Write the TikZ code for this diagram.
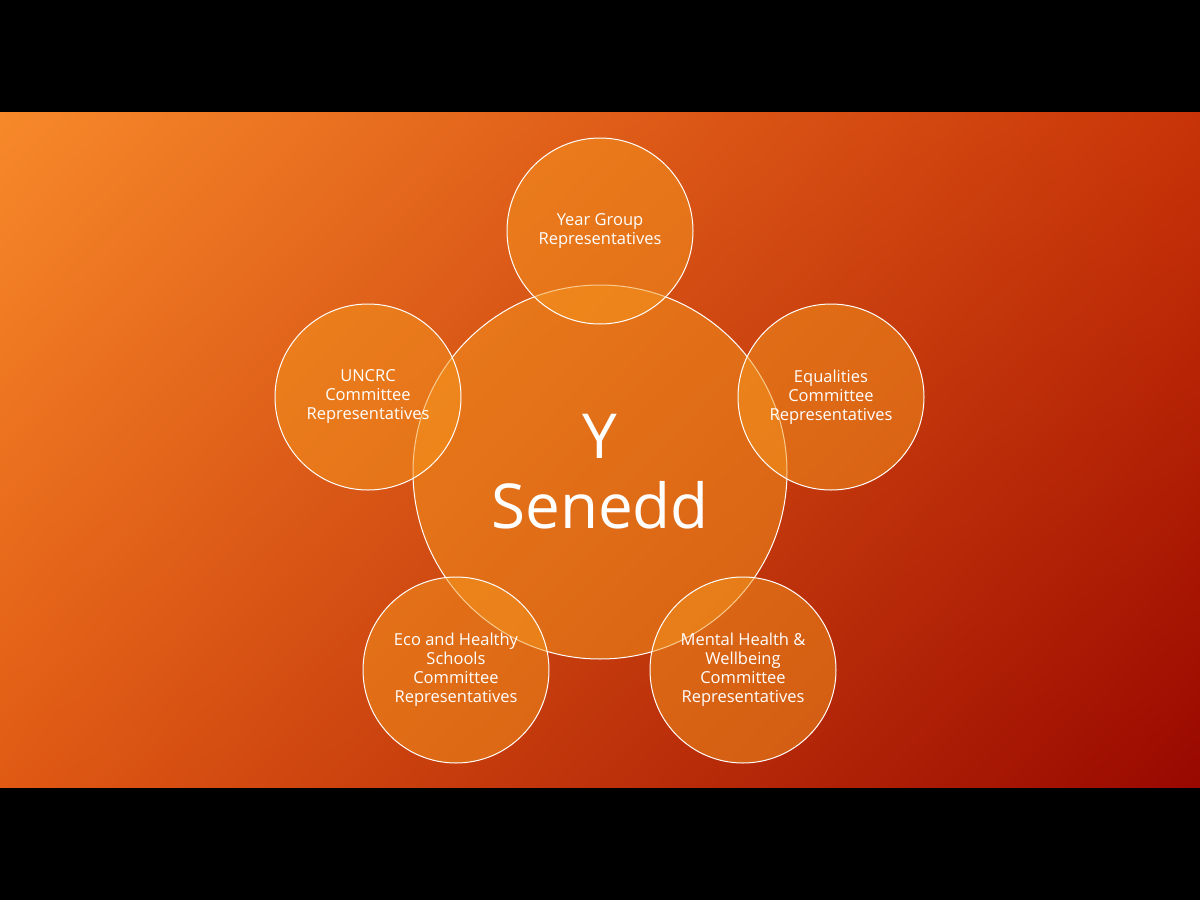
\documentclass[tikz,border=0pt]{standalone}
\usepackage{fontspec}
\setmainfont{Open Sans}
\usetikzlibrary{shadings}
\definecolor{bgtl}{HTML}{F7892A}
\definecolor{bgtr}{HTML}{C83408}
\definecolor{bgbl}{HTML}{E05A14}
\definecolor{bgbr}{HTML}{990800}
\definecolor{ringfill}{RGB}{245,150,30}

\begin{document}
\begin{tikzpicture}[x=1pt,y=-1pt,
  ring/.style={circle, draw=white, line width=1pt, fill=ringfill, fill opacity=0.5,
    text opacity=1, text=white, align=center, inner sep=0pt},
  smalltext/.style={font=\fontsize{16.5}{19}\selectfont}]
\newcommand{\ringsize}{93}
\fill[black] (0,0) rectangle (1200,900);
\shade[upper left=bgtl, upper right=bgtr, lower left=bgbl, lower right=bgbr] (0,112) rectangle (1200,787);
\node[ring, minimum size=374pt, font=\fontsize{62}{70}\selectfont] (senedd) at (600,472) {Y\\Senedd};
\foreach \name/\x/\y/\txt in {
    year/600/231/{Year Group\\Representatives},
    equal/831/397/{Equalities\\Committee\\Representatives},
    uncrc/368/397/{UNCRC\\Committee\\Representatives},
    eco/456/670/{Eco and Healthy\\Schools\\Committee\\Representatives},
    mental/743/670/{Mental Health \&\\Wellbeing\\Committee\\Representatives}}
  {
    \node[ring, smalltext, minimum size=2*\ringsize pt] (\name) at (\x,\y) {\txt};
  }
\useasboundingbox (0,0) rectangle (1200,900);
\end{tikzpicture}
\end{document}
